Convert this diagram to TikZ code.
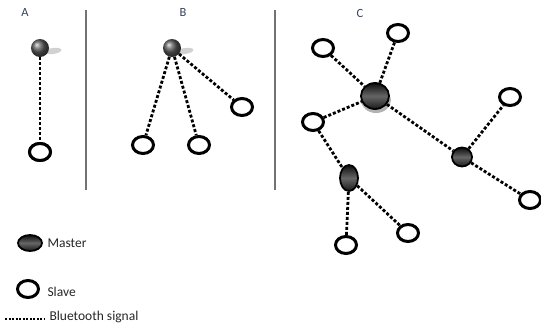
\documentclass[tikz,border=0pt]{standalone}
\usepackage{fontspec}
\setmainfont{Carlito}
\usetikzlibrary{shapes.geometric,shadings}
\definecolor{titlecol}{RGB}{55,65,95}
\tikzset{
  slave/.style={ellipse, draw=black, line width=3pt, fill=white,
    minimum width=21pt, minimum height=17pt, inner sep=0pt},
  smallmaster/.style={circle, shading=ball, ball color=black!65,
    minimum size=18pt, inner sep=0pt},
  master/.style={ellipse, top color=black!95, bottom color=black!90,
    middle color=black!60, draw=black, line width=1.8pt, inner sep=0pt},
  signal/.style={line width=2.8pt, dash pattern=on 3pt off 2pt},
  panel/.style={font=\fontsize{12.5}{14}\selectfont, text=titlecol},
  divider/.style={draw=black!55, line width=1.2pt},
  legendtext/.style={font=\fontsize{13.5}{15}\selectfont, text=black!85, anchor=west},
  shadowblob/.style={ellipse, fill=black!18, minimum width=17pt, minimum height=6pt, inner sep=0pt}
}
\begin{document}
\begin{tikzpicture}[x=1pt,y=-1pt]
\useasboundingbox (0,0) rectangle (541,333);

% panel titles and dividers
\node[panel] (tA) at (25,12) {A};
\node[panel] (tB) at (183,12) {B};
\node[panel] (tC) at (360,13) {C};
\coordinate (d1t) at (86,10);  \coordinate (d1b) at (86,190);
\coordinate (d2t) at (275,10); \coordinate (d2b) at (275,190);
\draw[divider] (d1t) -- (d1b);
\draw[divider] (d2t) -- (d2b);

% ---- A: one master, one slave
\node[shadowblob, rotate=8] (shA) at (53,51) {};
\node[smallmaster] (mA) at (40,48) {};
\node[slave] (sA) at (40,152) {};
\draw[signal] (mA) -- (sA);
\node[slave] at (sA) {};

% ---- B: one master, three slaves
\node[shadowblob, rotate=8] (shB) at (185,51) {};
\node[smallmaster] (mB) at (172,48) {};
\node[slave] (sB1) at (143,145) {};
\node[slave] (sB2) at (199,145) {};
\node[slave] (sB3) at (242,107) {};
\foreach \s in {sB1,sB2,sB3} \draw[signal] (mB) -- (\s);

% ---- C: scatternet
\node[ellipse, fill=black!30, minimum width=30pt, minimum height=26pt] (shC) at (376,100) {};
\node[master, minimum width=28pt, minimum height=26pt] (m1) at (375,96) {};
\node[master, minimum width=20pt, minimum height=19pt] (m2) at (462,157) {};
\node[master, minimum width=18pt, minimum height=26pt] (m3) at (349,178) {};
\node[slave] (c1) at (323,48) {};
\node[slave] (c2) at (398,33) {};
\node[slave] (c3) at (313,122) {};
\node[slave] (c4) at (510,97) {};
\node[slave] (c5) at (530,200) {};
\node[slave] (c6) at (346,245) {};
\node[slave] (c7) at (408,233) {};
\draw[signal] (c1) -- (m1);
\draw[signal] (c2) -- (m1);
\draw[signal] (c3) -- (m1);
\draw[signal] (m1) -- (m2);
\draw[signal] (m2) -- (c4);
\draw[signal] (m2) -- (c5);
\draw[signal] (c3) -- (m3);
\draw[signal] (m3) -- (c6);
\draw[signal] (m3) -- (c7);

% ---- legend
\node[master, minimum width=24pt, minimum height=16pt] (lm) at (30,243) {};
\node[legendtext] (lmt) at (44,243) {Master};
\node[slave] (ls) at (28,289) {};
\node[legendtext] (lst) at (44,292) {Slave};
\coordinate (lb1) at (5,319);
\coordinate (lb2) at (45,319);
\draw[line width=2pt, dash pattern=on 2pt off 1.5pt] (lb1) -- (lb2);
\node[legendtext] (lbt) at (46,317) {Bluetooth signal};
\end{tikzpicture}
\end{document}
